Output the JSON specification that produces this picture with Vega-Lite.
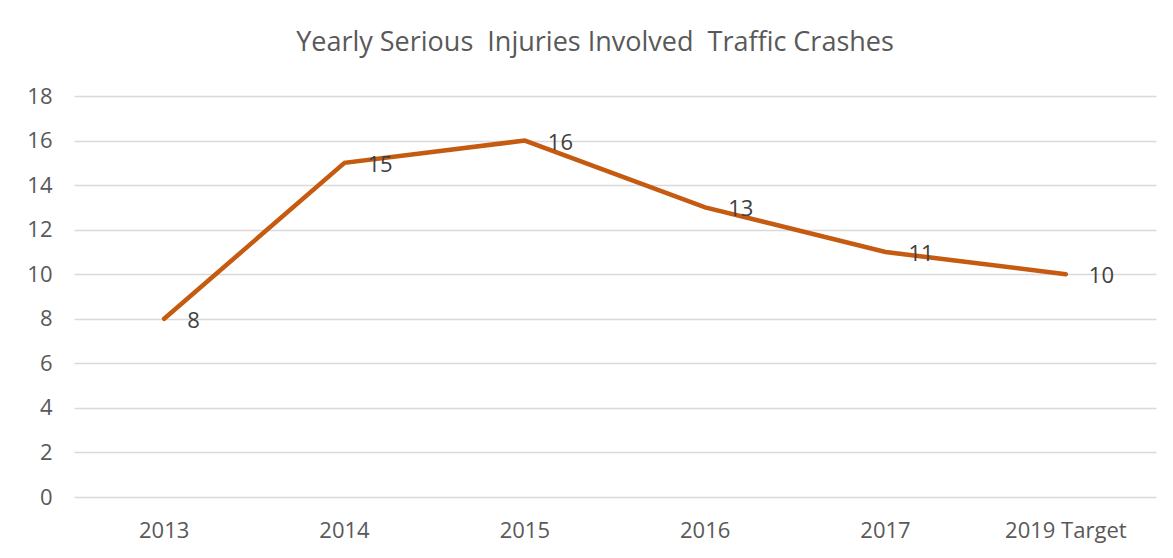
{
  "$schema": "https://vega.github.io/schema/vega-lite/v6.json",
  "autosize": {"type": "none"},
  "width": 1082,
  "height": 401,
  "padding": {"left": 74, "top": 96, "right": 17, "bottom": 61},
  "background": "white",
  "config": {
    "font": "Open Sans",
    "view": {"stroke": null}
  },
  "title": {
    "text": "Yearly Serious\u00a0 Injuries Involved\u00a0 Traffic Crashes",
    "font": "Open Sans",
    "fontSize": 27,
    "fontWeight": "normal",
    "color": "#595959",
    "anchor": "middle",
    "frame": "group",
    "dx": -20,
    "baseline": "bottom",
    "offset": 1
  },
  "data": {
    "values": [
      {"year": "2013", "crashes": 8},
      {"year": "2014", "crashes": 15},
      {"year": "2015", "crashes": 16},
      {"year": "2016", "crashes": 13},
      {"year": "2017", "crashes": 11},
      {"year": "2019 Target", "crashes": 10}
    ]
  },
  "encoding": {
    "x": {
      "field": "year",
      "type": "nominal",
      "sort": null,
      "scale": {"type": "band", "paddingInner": 0, "paddingOuter": 0},
      "axis": {
        "title": null,
        "labelAngle": 0,
        "domain": false,
        "ticks": false,
        "grid": false,
        "labelFontSize": 22,
        "labelColor": "#595959",
        "labelPadding": 23
      }
    },
    "y": {
      "field": "crashes",
      "type": "quantitative",
      "scale": {"domain": [0, 18], "nice": false},
      "axis": {
        "title": null,
        "values": [0, 2, 4, 6, 8, 10, 12, 14, 16, 18],
        "domain": false,
        "ticks": false,
        "gridColor": "#d9d9d9",
        "gridWidth": 1.3,
        "labelFontSize": 22,
        "labelColor": "#595959",
        "labelPadding": 22
      }
    }
  },
  "layer": [
    {
      "mark": {"type": "line", "color": "#C55A11", "strokeWidth": 4.5, "strokeCap": "round", "strokeJoin": "miter"}
    },
    {
      "mark": {"type": "text", "align": "left", "baseline": "middle", "dx": 23, "dy": 2, "fontSize": 22, "color": "#404040"},
      "encoding": {"text": {"field": "crashes", "type": "quantitative"}}
    }
  ]
}
